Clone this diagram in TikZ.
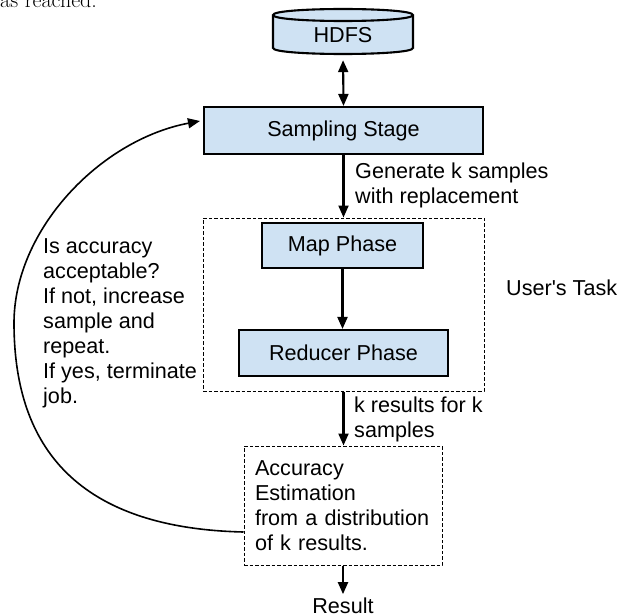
\documentclass[tikz,border=0pt]{standalone}
\usepackage{fontspec}
\newfontfamily\arialf[Ligatures=TeXOff]{Liberation Sans}
\usetikzlibrary{arrows.meta,calc}
\definecolor{boxblue}{HTML}{CFE2F3}
\begin{document}
\begin{tikzpicture}[x=1pt,y=-1pt,
  txt/.style={font=\arialf\fontsize{21.6}{25}\selectfont, inner sep=0pt},
  box/.style={txt, draw=black, line width=2.1pt, fill=boxblue},
  dbox/.style={draw=black, line width=1pt, dash pattern=on 3.5pt off 2pt},
  arr/.style={line width=2.1pt, -{Triangle[length=12pt,width=10pt]}},
  darr/.style={line width=2.1pt, {Triangle[length=12pt,width=10pt]}-{Triangle[length=12pt,width=10pt]}}]
\useasboundingbox (0,0) rectangle (626,615);

% stray text from the page above
\node[font=\fontsize{22}{26}\selectfont, anchor=base west, inner sep=0pt] (stray) at (0,7.5) {as reached.};

% HDFS cylinder
\filldraw[fill=boxblue, line width=2.1pt] (273,15) .. controls (273,7) and (413,7) .. (413,15) -- (413,48) .. controls (413,56) and (273,56) .. (273,48) -- cycle;
\draw[line width=2.1pt] (273,15) .. controls (273,23) and (413,23) .. (413,15);
\node[txt, minimum width=140pt, minimum height=38pt] (hdfs) at (343,35) {HDFS};

\node[box, minimum width=279pt, minimum height=47pt] (samp) at (343.5,130.5) {Sampling Stage};
\node[dbox, minimum width=281pt, minimum height=173pt] (task) at (343.5,304.5) {};
\node[box, minimum width=161pt, minimum height=45pt] (map) at (342.5,245.5) {Map Phase};
\node[box, minimum width=209pt, minimum height=46pt] (red) at (343.5,353) {Reducer Phase};
\node[txt, anchor=west] (user) at (506,288) {User's Task};

\node[dbox, txt, text width=176pt, inner xsep=11pt, minimum height=119pt, align=left] (acc) at (343,505.5) {Accuracy\\Estimation\\from a distribution\\of k results.};
\node[txt, anchor=base] (res) at (343,613) {Result};

\node[txt, anchor=west, align=left] (gen) at (355,185.5) {Generate k samples\\with replacement};
\node[txt, anchor=west, align=left] (kres) at (354,419.5) {k results for k\\samples};
\node[txt, anchor=west, align=left] (q) at (43,323) {Is accuracy\\acceptable?\\If not, increase\\sample and\\repeat.\\If yes, terminate\\job.};

% connectors
\draw[darr, shorten <=6pt] (hdfs.south) -- (samp.north);
\draw[arr] (samp.south) -- (samp.south |- task.north);
\draw[arr] (map.south) -- (map.south |- red.north);
\draw[arr] (task.south) -- (task.south |- acc.north);
\draw[arr] (acc.south) -- ([yshift=3pt]res.north);
\draw[arr, line width=1.6pt] ([yshift=-26.5pt]acc.west) .. controls (70,528) and (14,440) .. (14,323) .. controls (14,230) and (100,140) .. ($(samp.west)+(-3,-9.5)$);
\end{tikzpicture}
\end{document}
